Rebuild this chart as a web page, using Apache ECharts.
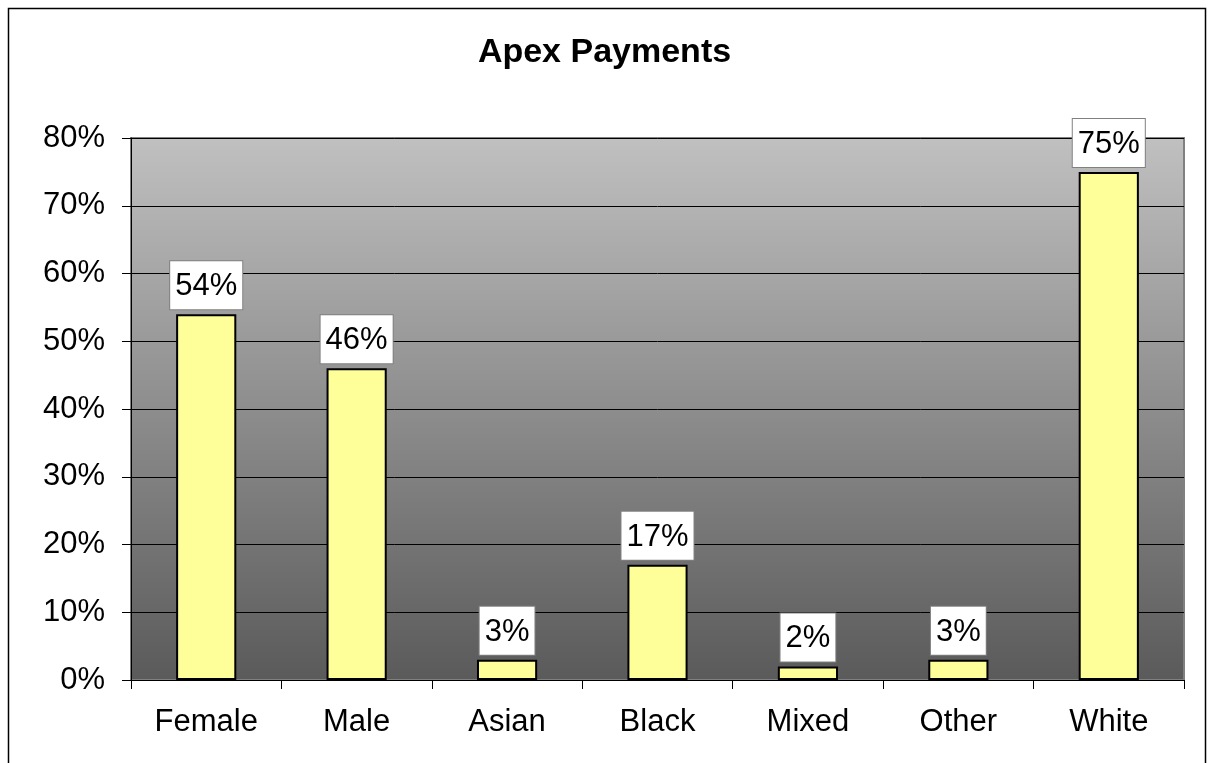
<!DOCTYPE html>
<html>
<head>
<meta charset="utf-8">
<script src="https://cdn.jsdelivr.net/npm/echarts@6/dist/echarts.min.js"></script>
<style>
  html, body { margin: 0; padding: 0; background: #ffffff; }
  #chart { width: 1209px; height: 763px; }
</style>
</head>
<body>
<div id="chart"></div>
<script>
// Share of Apex payments by group (percent)
const categories = ['Female', 'Male', 'Asian', 'Black', 'Mixed', 'Other', 'White'];
const shares = [54, 46, 3, 17, 2, 3, 75];
const yMin = 0, yMax = 80, yStep = 10;

const font = '"Liberation Sans", Arial, sans-serif';
const chart = echarts.init(document.getElementById('chart'));

chart.setOption({
  animation: false,
  backgroundColor: '#ffffff',
  title: {
    text: 'Apex Payments',
    left: 'center',
    top: 31,
    textStyle: { fontFamily: font, fontSize: 34, fontWeight: 'bold', color: '#000' }
  },
  graphic: [{
    type: 'rect',
    shape: { x: 8.5, y: 8.5, width: 1197, height: 780 },
    style: { fill: 'none', stroke: '#000', lineWidth: 1.5 },
    z: -1
  }],
  grid: {
    left: 131, right: 25, top: 138, bottom: 83,
    show: true,
    borderColor: '#808080',
    borderWidth: 2,
    backgroundColor: new echarts.graphic.LinearGradient(0, 0, 0, 1, [
      { offset: 0, color: '#c0c0c0' },
      { offset: 1, color: '#5a5a5a' }
    ])
  },
  xAxis: {
    type: 'category',
    data: categories,
    boundaryGap: true,
    axisLine: { show: true, lineStyle: { color: '#000', width: 1 } },
    axisTick: { show: true, length: 9, alignWithLabel: false, lineStyle: { color: '#000' } },
    axisLabel: { fontFamily: font, fontSize: 31, color: '#000', margin: 27 }
  },
  yAxis: {
    type: 'value',
    min: yMin, max: yMax, interval: yStep,
    axisLine: { show: true, lineStyle: { color: '#000', width: 1 } },
    axisTick: { show: true, length: 9, lineStyle: { color: '#000' } },
    axisLabel: { formatter: '{value}%', fontFamily: font, fontSize: 31, color: '#000', margin: 26 },
    splitLine: { show: true, lineStyle: { color: '#000', width: 1 } }
  },
  series: [{
    type: 'bar',
    data: shares,
    barWidth: '40%',
    itemStyle: { color: '#ffff99', borderColor: '#000', borderWidth: 2 },
    label: {
      show: true,
      position: 'top',
      distance: 5,
      formatter: '{c}%',
      fontFamily: font,
      fontSize: 31,
      color: '#000',
      backgroundColor: '#ffffff',
      borderColor: '#808080',
      borderWidth: 1,
      padding: [10, 5, 7, 5]
    }
  }]
});
</script>
</body>
</html>
